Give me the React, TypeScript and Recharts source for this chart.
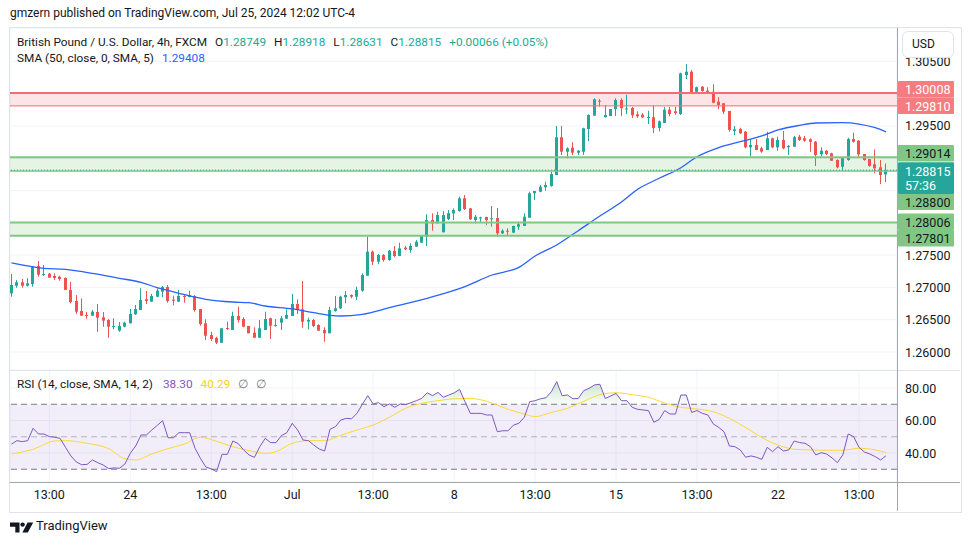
import React from 'react';
import { ComposedChart, Bar, Line, Area, XAxis, YAxis, CartesianGrid, ReferenceLine, ReferenceArea } from 'recharts';

const FONT = "Roboto, 'Noto Sans', Arial, sans-serif";
const TEXT = '#131722';
const UP = '#26a69a';
const DOWN = '#ef5350';
const GRID = '#f0f3fa';

const opens = [
  1.26909,1.27026,1.27079,1.27026,1.27053,1.27331,1.27192,1.27212,1.27176,1.27166,
  1.27146,1.26960,1.26790,1.26635,1.26573,1.26562,1.26619,1.26537,1.26495,1.26398,
  1.26330,1.26392,1.26444,1.26584,1.26650,1.26816,1.26779,1.26856,1.26933,1.27006,
  1.26810,1.26779,1.26867,1.26851,1.26867,1.26666,1.26444,1.26263,1.26217,1.26144,
  1.26372,1.26341,1.26557,1.26511,1.26403,1.26299,1.26221,1.26341,1.26522,1.26418,
  1.26454,1.26516,1.26557,1.26743,1.26661,1.26469,1.26495,1.26418,1.26341,1.26290,
  1.26635,1.26676,1.26847,1.26882,1.26856,1.26949,1.27181,1.27553,1.27398,1.27502,
  1.27424,1.27564,1.27486,1.27615,1.27579,1.27630,1.27692,1.27785,1.28043,1.27992,
  1.27853,1.28059,1.28147,1.28183,1.28379,1.28224,1.28043,1.28079,1.28090,1.28064,
  1.28074,1.27837,1.27878,1.27847,1.27940,1.27951,1.28079,1.28457,1.28481,1.28550,
  1.28570,1.28740,1.29324,1.29101,1.29163,1.29085,1.29101,1.29452,1.29658,1.29890,
  1.29633,1.29653,1.29762,1.29901,1.29766,1.29777,1.29680,1.29673,1.29633,1.29633,
  1.29468,1.29545,1.29751,1.29726,1.29684,1.30288,1.30339,1.30029,1.30107,1.30045,
  1.30029,1.29875,1.29850,1.29731,1.29421,1.29452,1.29410,1.29169,1.29204,1.29153,
  1.29127,1.29308,1.29169,1.29282,1.29169,1.29178,1.29333,1.29308,1.29293,1.29255,
  1.29060,1.29116,1.29076,1.28972,1.28868,1.28972,1.29297,1.29271,1.29065,1.28988,
  1.28906,1.28859,1.28749,
];

const highs = [
  1.27207,1.27115,1.27130,1.27141,1.27331,1.27409,1.27347,1.27223,1.27218,1.27181,
  1.27156,1.27084,1.26882,1.26831,1.26619,1.26650,1.26743,1.26619,1.26511,1.26522,
  1.26464,1.26469,1.26666,1.26728,1.26986,1.26944,1.26898,1.26986,1.27022,1.27037,
  1.26872,1.26960,1.26882,1.26949,1.26882,1.26666,1.26506,1.26314,1.26237,1.26367,
  1.26469,1.26624,1.26701,1.26537,1.26403,1.26382,1.26495,1.26624,1.26531,1.26511,
  1.26557,1.26661,1.26898,1.26816,1.27099,1.26531,1.26511,1.26429,1.26382,1.26701,
  1.26867,1.26872,1.26944,1.26893,1.27011,1.27218,1.27785,1.27568,1.27517,1.27517,
  1.27579,1.27641,1.27692,1.27641,1.27683,1.27734,1.27811,1.28132,1.28147,1.28172,
  1.28183,1.28198,1.28224,1.28404,1.28430,1.28224,1.28121,1.28094,1.28094,1.28260,
  1.28229,1.27899,1.27915,1.27955,1.28017,1.28147,1.28481,1.28492,1.28585,1.28636,
  1.28791,1.29499,1.29499,1.29169,1.29246,1.29127,1.29472,1.29680,1.29927,1.29916,
  1.29824,1.29762,1.29927,1.29927,1.29983,1.29793,1.29726,1.29695,1.29735,1.29819,
  1.29584,1.29793,1.29793,1.29793,1.30324,1.30458,1.30365,1.30107,1.30118,1.30098,
  1.30144,1.29943,1.29850,1.29731,1.29499,1.29472,1.29421,1.29293,1.29297,1.29178,
  1.29410,1.29317,1.29333,1.29421,1.29204,1.29344,1.29359,1.29344,1.29308,1.29266,
  1.29169,1.29127,1.29085,1.28983,1.29008,1.29317,1.29395,1.29282,1.29065,1.28988,
  1.29138,1.28972,1.28918,
];

const lows = [
  1.26856,1.26995,1.26995,1.27014,1.27011,1.27166,1.27176,1.27150,1.27115,1.27104,
  1.26960,1.26754,1.26588,1.26562,1.26516,1.26562,1.26314,1.26392,1.26221,1.26351,
  1.26314,1.26382,1.26444,1.26573,1.26650,1.26743,1.26779,1.26847,1.26847,1.26763,
  1.26723,1.26779,1.26763,1.26847,1.26624,1.26407,1.26186,1.26170,1.26124,1.26144,
  1.26341,1.26341,1.26454,1.26382,1.26290,1.26221,1.26221,1.26341,1.26201,1.26392,
  1.26341,1.26516,1.26557,1.26588,1.26376,1.26351,1.26382,1.26330,1.26159,1.26290,
  1.26624,1.26666,1.26754,1.26831,1.26805,1.26933,1.27181,1.27347,1.27358,1.27398,
  1.27413,1.27466,1.27486,1.27579,1.27537,1.27630,1.27692,1.27640,1.27878,1.27992,
  1.27853,1.28043,1.28043,1.28172,1.28198,1.28043,1.27992,1.28001,1.27966,1.27940,
  1.27785,1.27827,1.27796,1.27847,1.27889,1.27951,1.28079,1.28353,1.28472,1.28497,
  1.28559,1.28740,1.29050,1.28999,1.29050,1.29050,1.29050,1.29266,1.29658,1.29797,
  1.29633,1.29653,1.29653,1.29653,1.29684,1.29622,1.29622,1.29622,1.29529,1.29390,
  1.29416,1.29545,1.29649,1.29673,1.29669,1.30226,1.30005,1.30020,1.30029,1.30005,
  1.29850,1.29757,1.29684,1.29410,1.29359,1.29375,1.29153,1.29023,1.29127,1.29085,
  1.29127,1.29153,1.29116,1.29138,1.29050,1.29178,1.29266,1.29255,1.29101,1.28879,
  1.29023,1.29050,1.28961,1.28844,1.28807,1.28961,1.29240,1.29014,1.28961,1.28868,
  1.28766,1.28601,1.28631,
];

const closes = [
  1.27037,1.27079,1.27026,1.27063,1.27331,1.27197,1.27207,1.27150,1.27146,1.27130,
  1.26960,1.26774,1.26624,1.26562,1.26557,1.26624,1.26531,1.26485,1.26392,1.26403,
  1.26403,1.26454,1.26588,1.26666,1.26805,1.26790,1.26867,1.26949,1.27006,1.26790,
  1.26794,1.26867,1.26856,1.26882,1.26650,1.26433,1.26252,1.26201,1.26144,1.26367,
  1.26361,1.26557,1.26495,1.26392,1.26290,1.26221,1.26367,1.26511,1.26407,1.26403,
  1.26522,1.26573,1.26743,1.26650,1.26469,1.26495,1.26403,1.26330,1.26290,1.26650,
  1.26676,1.26856,1.26882,1.26856,1.26960,1.27192,1.27553,1.27398,1.27502,1.27424,
  1.27568,1.27486,1.27605,1.27590,1.27641,1.27707,1.27796,1.28043,1.27992,1.28121,
  1.28121,1.28147,1.28198,1.28379,1.28214,1.28054,1.28094,1.28085,1.28043,1.28070,
  1.27837,1.27878,1.27862,1.27951,1.27977,1.28094,1.28457,1.28492,1.28559,1.28585,
  1.28755,1.29324,1.29101,1.29153,1.29085,1.29116,1.29463,1.29669,1.29912,1.29875,
  1.29669,1.29762,1.29901,1.29773,1.29769,1.29664,1.29649,1.29633,1.29638,1.29468,
  1.29571,1.29751,1.29684,1.29700,1.30314,1.30339,1.30005,1.30098,1.30040,1.30014,
  1.29859,1.29824,1.29720,1.29437,1.29447,1.29386,1.29169,1.29204,1.29127,1.29101,
  1.29308,1.29169,1.29282,1.29153,1.29189,1.29324,1.29282,1.29271,1.29255,1.29050,
  1.29116,1.29065,1.28961,1.28859,1.29008,1.29297,1.29255,1.29060,1.28972,1.28879,
  1.28844,1.28740,1.28815,
];

const rsiValues = [
  45.5,47.6,47.0,47.6,55.2,51.7,51.7,50.1,49.7,49.0,
  43.5,38.2,34.5,32.8,33.0,35.7,34.0,32.6,30.4,30.8,
  30.6,33.2,39.8,44.3,51.1,51.1,54.2,57.0,59.9,49.4,
  49.4,52.5,52.5,52.5,42.9,36.7,31.4,30.2,28.5,39.2,
  39.2,47.4,45.8,41.9,38.8,37.3,43.9,49.0,46.4,46.4,
  50.7,52.5,58.3,54.2,48.0,47.6,44.9,42.5,41.2,54.6,
  56.2,60.3,61.3,61.1,64.4,70.0,75.3,70.2,71.0,68.5,
  70.2,68.1,70.2,69.8,71.0,72.2,73.6,77.1,75.3,77.3,
  74.3,75.7,77.0,79.2,71.6,64.4,64.4,64.4,63.4,63.4,
  53.1,53.7,53.7,57.2,58.3,62.0,71.6,72.2,73.4,74.0,
  77.7,83.9,75.3,75.7,73.4,73.6,78.4,79.8,81.9,82.3,
  73.6,75.1,76.7,72.2,72.2,68.1,66.9,66.5,66.1,58.9,
  60.7,66.1,64.0,64.0,75.7,75.7,65.0,66.1,64.4,63.4,
  57.9,55.8,53.1,44.3,43.9,41.9,37.4,38.2,37.4,36.1,
  43.5,40.8,43.9,41.2,41.9,47.4,46.4,46.0,43.9,38.8,
  40.2,39.4,37.0,34.1,38.8,51.7,50.1,43.5,40.6,39.4,
  37.8,35.7,38.3,
];

const smaIdx = [0,6,10,15,20,24,27,31,36,41,44,47,52,56,59,61,65,70,77,84,89,94,97,101,105,109,113,116,120,124,127,131,135,139,142,146,149,154,157,160,162];
const smaValues = [
  1.27381,1.27296,1.27280,1.27218,1.27141,1.27079,1.26995,1.26909,1.26816,1.26774,
  1.26763,1.26712,1.26666,1.26608,1.26568,1.26557,1.26584,1.26686,1.26831,1.27011,
  1.27192,1.27311,1.27486,1.27656,1.27878,1.28105,1.28322,1.28519,1.28689,1.28853,
  1.29023,1.29163,1.29255,1.29344,1.29437,1.29509,1.29545,1.29550,1.29529,1.29472,
  1.29408,
];

const rsiMaIdx = [0,4,8,10,14,18,21,23,26,29,32,35,38,41,44,47,49,52,55,58,61,64,67,70,73,76,79,82,85,88,90,92,95,97,100,103,106,109,112,115,118,121,124,127,130,133,136,139,142,145,148,151,154,157,160,162];
const rsiMaValues = [
  39.4,42.3,47.4,47.6,46.0,42.7,36.5,35.7,39.4,42.7,
  45.5,49.7,47.2,43.9,41.5,39.8,40.8,46.0,47.6,47.6,
  50.9,54.2,57.2,62.0,67.5,70.6,72.2,73.4,73.6,71.8,
  69.5,66.9,64.0,62.4,65.0,67.5,71.8,75.9,77.1,75.9,
  74.3,70.8,68.1,67.1,65.4,61.3,55.7,49.5,44.9,42.3,
  41.9,41.7,41.7,42.9,41.9,40.29,
];

const timeTickIdx = [7, 22, 37, 52, 67, 82, 97, 112, 127, 142, 157];
const timeTickLabels = ['13:00', '24', '13:00', 'Jul', '13:00', '8', '13:00', '15', '13:00', '22', '13:00'];
const priceTicks = [1.26, 1.265, 1.27, 1.275, 1.28, 1.285, 1.29, 1.295, 1.3, 1.305];
const hiddenPriceTicks = [1.28, 1.285, 1.29, 1.3];
const rsiTicks = [40, 60, 80];
const resistanceZone = [1.2981, 1.30008];
const supportZoneA = [1.288, 1.29014];
const supportZoneB = [1.27801, 1.28006];
const lastPrice = 1.28815;
const countdown = '57:36';
const legendOHLC = ['1.28749', '1.28918', '1.28631', '1.28815'];
const legendChange = '+0.00066 (+0.05%)';
const legendSma = '1.29408';
const legendRsi = '38.30';
const legendRsiMa = '40.29';

const smaById = new Map<number, number>(smaIdx.map((k, j) => [k, smaValues[j]]));
const rsiMaById = new Map<number, number>(rsiMaIdx.map((k, j) => [k, rsiMaValues[j]]));

const rows = opens.map((o, i) => ({
  i,
  o,
  h: highs[i],
  l: lows[i],
  c: closes[i],
  range: [lows[i], highs[i]],
  sma: smaById.has(i) ? smaById.get(i) : null,
  rsi: rsiValues[i],
  rsiMa: rsiMaById.has(i) ? rsiMaById.get(i) : null,
  ob: [70, Math.max(70, rsiValues[i])],
}));

const X_DOMAIN: [number, number] = [-0.28, 164.04];

function Candle(props: any) {
  const { x, y, width, height, payload } = props;
  if (!payload || x == null || y == null) return null;
  const { o, h, l, c } = payload;
  const top = Math.min(y, y + height);
  const hh = Math.abs(height);
  const span = h - l;
  const py = (p: number) => (span > 0 ? top + ((h - p) / span) * hh : top);
  const color = c >= o ? UP : DOWN;
  const bx = Math.round(x + width / 2 - 1.5);
  const bt = py(Math.max(o, c));
  const bb = py(Math.min(o, c));
  return (
    <g>
      <rect x={bx + 1} y={top} width={1} height={Math.max(hh, 1)} fill={color} />
      <rect x={bx} y={bt} width={3} height={Math.max(bb - bt, 1)} fill={color} />
    </g>
  );
}

function Tag(props: any) {
  const { viewBox, text, sub, bg, fg, dy } = props;
  if (!viewBox) return null;
  const x = viewBox.x + viewBox.width + 1;
  const cy = viewBox.y + dy;
  const h = sub ? 31.6 : 16.6;
  return (
    <g>
      <rect x={x} y={cy - 8.3} width={56} height={h} fill={bg} rx={1} />
      <text x={x + 7} y={cy + 0.5} dominantBaseline="central" fontSize={12.5} fill={fg} fontFamily={FONT}>
        {text}
      </text>
      {sub ? (
        <text x={x + 7} y={cy + 15} dominantBaseline="central" fontSize={12.5} fill={fg} fontFamily={FONT}>
          {sub}
        </text>
      ) : null}
    </g>
  );
}

function PriceTick(props: any) {
  const { x, y, payload } = props;
  if (hiddenPriceTicks.some((v) => Math.abs(v - payload.value) < 1e-9)) return null;
  return (
    <text x={x + 8} y={y} dominantBaseline="central" fontSize={12.5} fill={TEXT} fontFamily={FONT}>
      {Number(payload.value).toFixed(5)}
    </text>
  );
}

function RsiTick(props: any) {
  const { x, y, payload } = props;
  return (
    <text x={x + 8} y={y} dominantBaseline="central" fontSize={12.5} fill={TEXT} fontFamily={FONT}>
      {Number(payload.value).toFixed(2)}
    </text>
  );
}

const RED_LINE = '#f26d76';
const RED_TAG = '#f77c80';
const GREEN_LINE = '#81c784';
const GREEN_TAG = '#81c784';

function TvLogo() {
  return (
    <svg width={24} height={11} viewBox="0 0 24 11" style={{ position: 'absolute', left: 10, top: 522 }}>
      <path d="M0 0.5h9.5v10h-4.2v-5.8H0z" fill={TEXT} />
      <circle cx={12.6} cy={2.6} r={2.2} fill={TEXT} />
      <path d="M17.6 0.5h5.6l-5.4 10h-5.4z" fill={TEXT} />
    </svg>
  );
}

export default function App() {
  const legendBase: React.CSSProperties = {
    position: 'absolute',
    left: 17,
    fontSize: 11.8,
    color: TEXT,
    whiteSpace: 'nowrap',
    fontFamily: FONT,
    lineHeight: '16px',
  };
  const valColor = '#22ab94';
  return (
    <div
      style={{
        position: 'absolute',
        left: 0,
        top: 0,
        width: 970,
        height: 545,
        background: '#ffffff',
        fontFamily: FONT,
        overflow: 'hidden',
      }}
    >
      <div style={{ position: 'absolute', left: 10, top: 6, fontSize: 12, color: TEXT, whiteSpace: 'nowrap' }}>
        gmzern published on TradingView.com, Jul 25, 2024 12:02 UTC-4
      </div>
      <div
        style={{
          position: 'absolute',
          left: 9,
          top: 27,
          width: 951,
          height: 484,
          border: '1px solid #e0e3eb',
        }}
      />

      <div style={{ position: 'absolute', left: 10, top: 28 }}>
        <ComposedChart width={950} height={342} data={rows} margin={{ top: 0, right: 0, bottom: 0, left: 0 }}>
          <CartesianGrid stroke={GRID} />
          <XAxis
            type="number"
            dataKey="i"
            domain={X_DOMAIN}
            allowDataOverflow
            ticks={timeTickIdx}
            height={0}
            tick={false}
            axisLine={false}
            tickLine={false}
          />
          <YAxis
            type="number"
            orientation="right"
            width={63}
            domain={[1.257214, 1.310155]}
            allowDataOverflow
            ticks={priceTicks}
            tick={<PriceTick />}
            tickSize={0}
            tickMargin={0}
            axisLine={false}
            tickLine={false}
          />
          <ReferenceArea y1={resistanceZone[0]} y2={resistanceZone[1]} fill="#f23645" fillOpacity={0.13} stroke="none" />
          <ReferenceArea y1={supportZoneA[0]} y2={supportZoneA[1]} fill="#4caf50" fillOpacity={0.14} stroke="none" />
          <ReferenceArea y1={supportZoneB[0]} y2={supportZoneB[1]} fill="#4caf50" fillOpacity={0.14} stroke="none" />
          <Bar dataKey="range" barSize={3} shape={<Candle />} isAnimationActive={false} />
          <Line
            type="monotone"
            dataKey="sma"
            stroke="#2962ff"
            strokeWidth={1.3}
            dot={false}
            connectNulls
            isAnimationActive={false}
          />
          <ReferenceLine
            y={resistanceZone[1]}
            stroke={RED_LINE}
            strokeWidth={2}
            label={<Tag text={resistanceZone[1].toFixed(5)} bg={RED_TAG} fg="#ffffff" dy={-3.8} />}
          />
          <ReferenceLine
            y={resistanceZone[0]}
            stroke={RED_LINE}
            strokeWidth={1}
            label={<Tag text={resistanceZone[0].toFixed(5)} bg={RED_TAG} fg="#ffffff" dy={-0.2} />}
          />
          <ReferenceLine
            y={supportZoneA[1]}
            stroke={GREEN_LINE}
            strokeWidth={2}
            label={<Tag text={supportZoneA[1].toFixed(5)} bg={GREEN_TAG} fg={TEXT} dy={-4} />}
          />
          <ReferenceLine
            y={supportZoneA[0]}
            stroke={GREEN_LINE}
            strokeWidth={1.5}
            label={<Tag text={supportZoneA[0].toFixed(5)} bg={GREEN_TAG} fg={TEXT} dy={30.6} />}
          />
          <ReferenceLine
            y={supportZoneB[1]}
            stroke={GREEN_LINE}
            strokeWidth={2}
            label={<Tag text={supportZoneB[1].toFixed(5)} bg={GREEN_TAG} fg={TEXT} dy={-0.7} />}
          />
          <ReferenceLine
            y={supportZoneB[0]}
            stroke={GREEN_LINE}
            strokeWidth={2}
            label={<Tag text={supportZoneB[0].toFixed(5)} bg={GREEN_TAG} fg={TEXT} dy={2.6} />}
          />
          <ReferenceLine
            y={lastPrice}
            stroke={UP}
            strokeWidth={1}
            strokeDasharray="1 2"
            label={<Tag text={lastPrice.toFixed(5)} sub={countdown} bg={UP} fg="#ffffff" dy={0.5} />}
          />
        </ComposedChart>
      </div>

      <div style={{ position: 'absolute', left: 10, top: 370 }}>
        <ComposedChart width={950} height={140} data={rows} margin={{ top: 0, right: 0, bottom: 0, left: 0 }}>
          <defs>
            <linearGradient id="obFill" x1="0" y1="0" x2="0" y2="1">
              <stop offset="0%" stopColor="#4caf50" stopOpacity={0.5} />
              <stop offset="100%" stopColor="#4caf50" stopOpacity={0.05} />
            </linearGradient>
          </defs>
          <CartesianGrid stroke={GRID} />
          <XAxis
            type="number"
            dataKey="i"
            domain={X_DOMAIN}
            allowDataOverflow
            ticks={timeTickIdx}
            height={28}
            axisLine={false}
            tickLine={false}
            tickSize={4}
            tickMargin={4}
            interval={0}
            tick={{ fontSize: 12.5, fill: TEXT, fontFamily: FONT }}
            tickFormatter={(v: number) => timeTickLabels[timeTickIdx.indexOf(v)] ?? ''}
          />
          <YAxis
            type="number"
            orientation="right"
            width={63}
            domain={[22.15, 91.1]}
            allowDataOverflow
            ticks={rsiTicks}
            tick={<RsiTick />}
            tickSize={0}
            tickMargin={0}
            axisLine={false}
            tickLine={false}
          />
          <ReferenceArea y1={30} y2={70} fill="#7e57c2" fillOpacity={0.1} stroke="none" />
          <ReferenceLine y={70} stroke="#787b86" strokeDasharray="6 4" />
          <ReferenceLine y={50} stroke="#787b86" strokeOpacity={0.5} strokeDasharray="6 4" />
          <ReferenceLine y={30} stroke="#787b86" strokeDasharray="6 4" />
          <Area type="linear" dataKey="ob" stroke="none" fill="url(#obFill)" isAnimationActive={false} />
          <Line
            type="monotone"
            dataKey="rsiMa"
            stroke="#fdd835"
            strokeWidth={1}
            dot={false}
            connectNulls
            isAnimationActive={false}
          />
          <Line type="linear" dataKey="rsi" stroke="#7e57c2" strokeWidth={1} dot={false} isAnimationActive={false} />
        </ComposedChart>
      </div>

      <div style={{ position: 'absolute', left: 10, top: 370, width: 950, height: 1, background: '#e0e3eb' }} />
      <div style={{ position: 'absolute', left: 10, top: 482, width: 950, height: 1, background: '#a3a6af' }} />
      <div style={{ position: 'absolute', left: 897, top: 28, width: 1, height: 483, background: '#a3a6af' }} />

      <div style={{ ...legendBase, top: 34 }}>
        <span>British Pound / U.S. Dollar, 4h, FXCM</span>
        <span style={{ marginLeft: 8 }}>O</span>
        <span style={{ color: valColor }}>{legendOHLC[0]}</span>
        <span style={{ marginLeft: 8 }}>H</span>
        <span style={{ color: valColor }}>{legendOHLC[1]}</span>
        <span style={{ marginLeft: 8 }}>L</span>
        <span style={{ color: valColor }}>{legendOHLC[2]}</span>
        <span style={{ marginLeft: 8 }}>C</span>
        <span style={{ color: valColor }}>{legendOHLC[3]}</span>
        <span style={{ marginLeft: 8, color: valColor }}>{legendChange}</span>
      </div>
      <div style={{ ...legendBase, top: 50 }}>
        <span>SMA (50, close, 0, SMA, 5)</span>
        <span style={{ marginLeft: 8, color: '#2962ff' }}>{legendSma}</span>
      </div>
      <div style={{ ...legendBase, top: 376 }}>
        <span>RSI (14, close, SMA, 14, 2)</span>
        <span style={{ marginLeft: 10, color: '#7e57c2' }}>{legendRsi}</span>
        <span style={{ marginLeft: 8, color: '#f5d130' }}>{legendRsiMa}</span>
        <span style={{ marginLeft: 8, color: '#787b86' }}>∅</span>
        <span style={{ marginLeft: 8, color: '#787b86' }}>∅</span>
      </div>

      <div
        style={{
          position: 'absolute',
          left: 902,
          top: 31,
          width: 52,
          height: 27,
          border: '1px solid #e0e3eb',
          borderRadius: 6,
          background: '#ffffff',
          fontSize: 12,
          color: TEXT,
          lineHeight: '25px',
          paddingLeft: 9,
          boxSizing: 'border-box',
        }}
      >
        USD
      </div>

      <TvLogo />
      <div style={{ position: 'absolute', left: 36, top: 518, fontSize: 13, color: TEXT, whiteSpace: 'nowrap' }}>
        TradingView
      </div>
    </div>
  );
}
